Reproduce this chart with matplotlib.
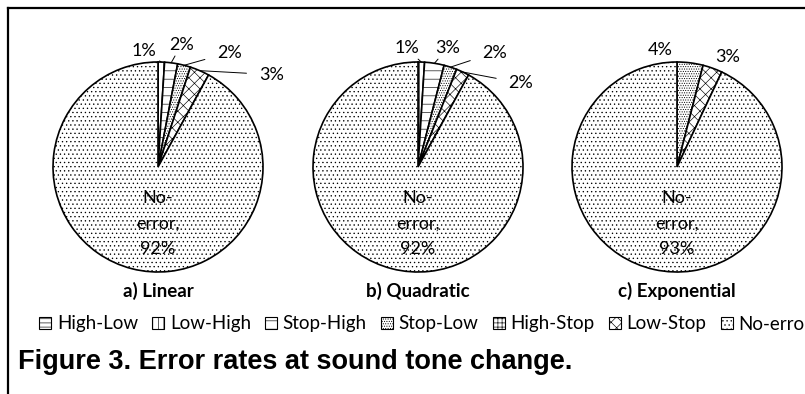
import numpy as np
import matplotlib
matplotlib.use("Agg")
import matplotlib.pyplot as plt
from matplotlib.patches import Patch
from matplotlib.lines import Line2D

plt.rcParams['font.family'] = ['Lato', 'DejaVu Sans']
plt.rcParams['hatch.linewidth'] = 0.45

categories = ["High-Low", "Low-High", "Stop-High", "Stop-Low", "High-Stop", "Low-Stop", "No-error"]
linear = [0, 1, 2, 2, 0, 3, 92]
quadratic = [0, 1, 3, 2, 0, 2, 92]
exponential = [0, 0, 0, 4, 0, 3, 93]
panel_titles = ["a) Linear", "b) Quadratic", "c) Exponential"]
caption = "Figure 3. Error rates at sound tone change."

hatches = ['----', '|||', '--', '.......', '++++', 'xxx', '....']

# layout (pixels): pie centres, radius, and small-label offsets (in radii)
W, H = 805, 394
centres = [(158, 167), (418, 167), (677, 167)]
R = 105
label_pos = [
    [(-0.13, 1.10), (0.22, 1.16), (0.68, 1.09), (1.08, 0.88)],
    [(-0.11, 1.13), (0.28, 1.13), (0.73, 1.09), (0.98, 0.80)],
    [(-0.16, 1.11), (0.48, 1.05)],
]
leader = [True, True, False]

fig = plt.figure(figsize=(W / 100, H / 100), dpi=100)

for k, vals in enumerate([linear, quadratic, exponential]):
    cx, cy = centres[k]
    ax = fig.add_axes([(cx - R) / W, 1 - (cy + R) / H, 2 * R / W, 2 * R / H])
    idx = [i for i, v in enumerate(vals) if v > 0]
    sizes = [vals[i] for i in idx]
    wedges, _ = ax.pie(sizes, startangle=90, counterclock=False, radius=1,
                       wedgeprops=dict(facecolor='white', edgecolor='black', linewidth=1.2))
    for w, i in zip(wedges, idx):
        w.set_hatch(hatches[i])
    ax.set_xlim(-1, 1)
    ax.set_ylim(-1, 1)
    ax.set_aspect('equal')
    ax.axis('off')

    small = [j for j, i in enumerate(idx) if categories[i] != "No-error"]
    for n, j in enumerate(small):
        w = wedges[j]
        ang = np.deg2rad((w.theta1 + w.theta2) / 2)
        lx, ly = label_pos[k][n]
        txt = f"{sizes[j]}%"
        if leader[k]:
            ax.annotate(txt, xy=(np.cos(ang), np.sin(ang)), xytext=(lx, ly),
                        ha='center', va='center', fontsize=13,
                        annotation_clip=False,
                        arrowprops=dict(arrowstyle='-', color='black', lw=0.7,
                                        shrinkA=7, shrinkB=0))
        else:
            ax.text(lx, ly, txt, ha='center', va='center', fontsize=13)
    j_ne = idx.index(categories.index("No-error"))
    ax.text(0, -0.54, f"No-\nerror,\n{sizes[j_ne]}%", ha='center', va='center',
            fontsize=13, linespacing=1.75)
    fig.text(cx / W, 1 - 291 / H, panel_titles[k], ha='center', va='center',
             fontsize=13.5, fontweight='bold')

handles = [Patch(facecolor='white', edgecolor='black', hatch=h, linewidth=0.8) for h in hatches]
fig.legend(handles, categories, loc='center left', bbox_to_anchor=(39 / W, 1 - 324 / H),
           ncol=7, frameon=False, fontsize=13.5, handlelength=0.65, handleheight=0.65,
           handletextpad=0.3, columnspacing=0.75, borderpad=0, borderaxespad=0)

fig.text(18 / W, 1 - 362 / H, caption, ha='left', va='center', fontsize=19.5,
         fontweight='bold', family=['Liberation Sans', 'DejaVu Sans'])

# frame of the original figure box
y_top = 1 - 8 / H
fig.add_artist(Line2D([8 / W, 8 / W], [0, y_top], color='black', lw=1.6))
fig.add_artist(Line2D([8 / W, 1], [y_top, y_top], color='black', lw=1.6))

fig.savefig("out.png", dpi=100)
